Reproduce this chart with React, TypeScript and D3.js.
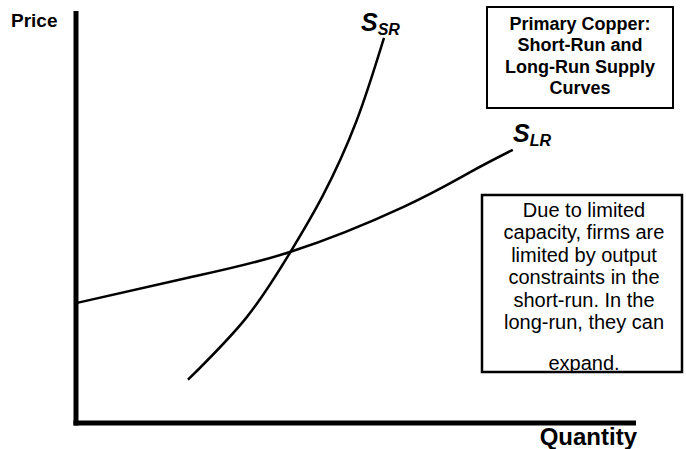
import React, { useEffect, useRef } from 'react';
import * as d3 from 'd3';

// short-run supply curve (quantity, price on a 0..100 schematic scale)
const ssrQ = [20, 30.5, 38.2, 44, 50, 55];
const ssrP = [10.5, 25.7, 41.3, 55, 73, 93.5];

// long-run supply curve
const slrQ = [0, 19.8, 38.2, 58.4, 70.4, 78];
const slrP = [29.1, 35.2, 41.5, 52.4, 60.9, 66.3];

const titleLines = ['Primary Copper:', 'Short-Run and', 'Long-Run Supply', 'Curves'];
const noteLines = [
  'Due to limited',
  'capacity, firms are',
  'limited by output',
  'constraints in the',
  'short-run. In the',
  'long-run, they can',
  'expand.',
];

const W = 686;
const H = 449;
const FONT = "'Liberation Sans', Arial, Helvetica, sans-serif";

export default function App() {
  const ref = useRef<SVGSVGElement | null>(null);

  useEffect(() => {
    const svg = d3.select(ref.current);
    svg.selectAll('*').remove();

    const x = d3.scaleLinear().domain([0, 100]).range([76, 636]);
    const y = d3.scaleLinear().domain([0, 100]).range([423, 11]);

    // axes (plain thick lines, no ticks)
    svg.append('line')
      .attr('x1', x(0)).attr('x2', x(0))
      .attr('y1', y(100)).attr('y2', y(0) + 2.5)
      .attr('stroke', '#000').attr('stroke-width', 5);
    svg.append('line')
      .attr('x1', x(0) - 2.5).attr('x2', x(100))
      .attr('y1', y(0)).attr('y2', y(0))
      .attr('stroke', '#000').attr('stroke-width', 5);

    svg.append('text')
      .attr('x', 11).attr('y', 27)
      .attr('font-family', FONT).attr('font-weight', 'bold').attr('font-size', 19)
      .text('Price');
    svg.append('text')
      .attr('x', 637).attr('y', 445)
      .attr('text-anchor', 'end')
      .attr('font-family', FONT).attr('font-weight', 'bold').attr('font-size', 24)
      .text('Quantity');

    const line = d3.line<[number, number]>()
      .x(d => x(d[0]))
      .y(d => y(d[1]))
      .curve(d3.curveNatural);

    const ssr = ssrQ.map((q, i) => [q, ssrP[i]] as [number, number]);
    const slr = slrQ.map((q, i) => [q, slrP[i]] as [number, number]);

    svg.append('path').datum(slr)
      .attr('fill', 'none').attr('stroke', '#000').attr('stroke-width', 2.5)
      .attr('d', line);
    svg.append('path').datum(ssr)
      .attr('fill', 'none').attr('stroke', '#000').attr('stroke-width', 2.5)
      .attr('d', line);

    // curve labels
    const addLabel = (lx: number, ly: number, sub: string) => {
      const t = svg.append('text')
        .attr('x', lx).attr('y', ly)
        .attr('font-family', FONT).attr('font-weight', 'bold').attr('font-style', 'italic')
        .attr('font-size', 25);
      t.append('tspan').text('S');
      t.append('tspan').attr('font-size', 16).attr('dy', 4).text(sub);
    };
    addLabel(361, 31, 'SR');
    addLabel(513, 142, 'LR');

    // title box
    svg.append('rect')
      .attr('x', 487).attr('y', 7).attr('width', 186).attr('height', 101)
      .attr('fill', '#fff').attr('stroke', '#000').attr('stroke-width', 2);
    svg.append('g').selectAll('text').data(titleLines).join('text')
      .attr('x', 580).attr('y', (d, i) => 30 + i * 21.3)
      .attr('text-anchor', 'middle')
      .attr('font-family', FONT).attr('font-weight', 'bold').attr('font-size', 18)
      .text(d => d);

    // note box, last line clipped by the border
    svg.append('clipPath').attr('id', 'noteClip')
      .append('rect').attr('x', 482).attr('y', 195).attr('width', 200).attr('height', 177);
    svg.append('rect')
      .attr('x', 482).attr('y', 195).attr('width', 200).attr('height', 177)
      .attr('fill', '#fff');
    const baselines = [217, 239, 261.5, 284, 306.5, 329, 370];
    svg.append('g').attr('clip-path', 'url(#noteClip)')
      .selectAll('text').data(noteLines).join('text')
      .attr('x', 584).attr('y', (d, i) => baselines[i])
      .attr('text-anchor', 'middle')
      .attr('font-family', FONT).attr('font-size', 20)
      .text(d => d);
    svg.append('rect')
      .attr('x', 482).attr('y', 195).attr('width', 200).attr('height', 177)
      .attr('fill', 'none').attr('stroke', '#000').attr('stroke-width', 2.5);
  }, []);

  return (
    <svg
      ref={ref}
      width={W}
      height={H}
      style={{ position: 'absolute', left: 0, top: 0, background: '#fff' }}
    />
  );
}
